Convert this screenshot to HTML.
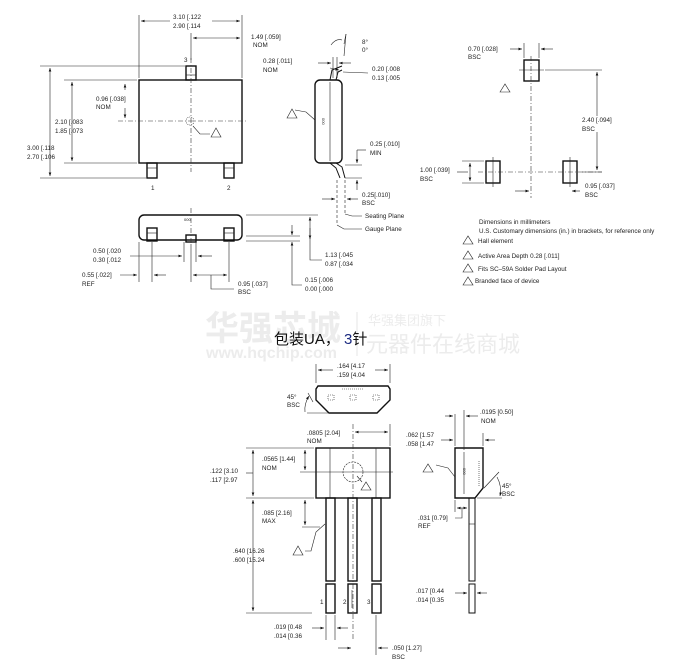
<!DOCTYPE html>
<html><head><meta charset="utf-8"><style>
html,body{margin:0;padding:0;background:#fff}
svg{display:block}
text{font-family:"Liberation Sans",sans-serif;font-size:6.3px;fill:#222}
.b{fill:none;stroke:#111;stroke-width:1.4}
.l{fill:none;stroke:#222;stroke-width:0.6}
.d{fill:none;stroke:#333;stroke-width:0.6;stroke-dasharray:5 2 1 2}
.w{font-family:"Liberation Sans","Noto Sans CJK SC",sans-serif;fill:#ececec}
</style></head><body>
<svg width="697" height="666" viewBox="0 0 697 666" xmlns="http://www.w3.org/2000/svg">
<defs>
<marker id="a" viewBox="0 0 8 6" refX="8" refY="3" markerWidth="6" markerHeight="4.5" orient="auto-start-reverse"><path d="M0,0L8,3L0,6z" fill="#111"/></marker>
</defs>

<!-- watermark -->
<text class="w" x="205" y="340" style="font-size:34px;font-weight:bold">华强芯城</text>
<text class="w" x="206" y="358" style="font-size:16px;font-weight:bold">www.hqchip.com</text>
<line x1="357" y1="312" x2="357" y2="356" stroke="#e4e4e4" stroke-width="1"/>
<text class="w" x="368" y="325" style="font-size:13px">华强集团旗下</text>
<text class="w" x="366" y="352" style="font-size:22px">元器件在线商城</text>
<text x="274" y="344" style="font-family:'Liberation Sans','Noto Sans CJK SC',sans-serif;font-size:15px;fill:#111">包装UA， <tspan fill="#1a2a80">3</tspan>针</text>

<!-- ===== SOT top view ===== -->
<rect class="b" x="139" y="80" width="103" height="83"/>
<rect class="b" x="186" y="66" width="10" height="14"/><line class="l" x1="186" y1="75" x2="196" y2="75"/>
<rect class="b" x="147" y="163" width="10" height="15"/><line class="l" x1="147" y1="168" x2="157" y2="168"/>
<rect class="b" x="224" y="163" width="10" height="15"/><line class="l" x1="224" y1="168" x2="234" y2="168"/>
<text x="184" y="62">3</text><text x="151" y="190">1</text><text x="227" y="190">2</text>
<line class="d" x1="118" y1="121" x2="247" y2="121"/>
<line class="d" x1="191" y1="58" x2="191" y2="172"/>
<circle cx="190" cy="121" r="4" class="l" stroke-dasharray="1 1"/>
<path class="l" d="M193,126 L200,134 L210,134"/>
<path class="l" d="M211,137 L216,128 L221,137z"/>
<!-- ext lines -->
<line class="l" x1="139" y1="15" x2="139" y2="78"/><line class="l" x1="242" y1="15" x2="242" y2="78"/>
<line class="l" x1="191" y1="33" x2="191" y2="60"/>
<line class="l" x1="141" y1="21" x2="170" y2="21" marker-start="url(#a)"/><line class="l" x1="212" y1="21" x2="240" y2="21" marker-end="url(#a)"/>
<text x="173" y="19">3.10 [.122</text><text x="173" y="28">2.90 [.114</text>
<line class="l" x1="193" y1="38" x2="240" y2="38" marker-start="url(#a)" marker-end="url(#a)"/>
<text x="251" y="39">1.49 [.059]</text><text x="253" y="47">NOM</text>
<line class="l" x1="40" y1="66" x2="185" y2="66"/><line class="l" x1="64" y1="80" x2="137" y2="80"/>
<line class="l" x1="64" y1="163" x2="137" y2="163"/><line class="l" x1="40" y1="178" x2="146" y2="178"/>
<line class="l" x1="50" y1="68" x2="50" y2="176" marker-start="url(#a)" marker-end="url(#a)"/>
<text x="27" y="150">3.00 [.118</text><text x="27" y="159">2.70 [.106</text>
<line class="l" x1="72" y1="82" x2="72" y2="161" marker-start="url(#a)" marker-end="url(#a)"/>
<text x="55" y="124">2.10 [.083</text><text x="55" y="133">1.85 [.073</text>
<line class="l" x1="125" y1="84" x2="125" y2="90" marker-start="url(#a)"/><line class="l" x1="125" y1="108" x2="125" y2="118" marker-end="url(#a)"/>
<text x="96" y="101">0.96 [.038]</text><text x="96" y="109">NOM</text>

<!-- ===== SOT side view ===== -->
<rect class="b" x="315" y="80" width="27" height="83" rx="5"/>
<line class="l" x1="330" y1="82" x2="330" y2="161"/>
<path class="b" d="M330,80 L332,70 L342,66 M336,80 L338,72 L342,70" style="stroke-width:1"/>
<path class="b" d="M330,163 L336,168 L340,178 M336,163 L342,167 L345,178" style="stroke-width:1"/>
<text x="0" y="0" transform="translate(322,118) rotate(90)" style="font-size:4px">000</text>
<path class="l" d="M295,110 L306,112 L315,120"/><path class="l" d="M287,118 L292,109 L297,118z"/>
<line class="l" x1="333" y1="57" x2="333" y2="78"/><line class="l" x1="337" y1="57" x2="337" y2="78"/>
<line class="l" x1="318" y1="63" x2="331" y2="63" marker-end="url(#a)"/><line class="l" x1="351" y1="63" x2="339" y2="63" marker-end="url(#a)"/>
<text x="263" y="63">0.28 [.011]</text><text x="263" y="72">NOM</text>
<line class="l" x1="330" y1="68" x2="339" y2="70" marker-end="url(#a)"/>
<path class="l" d="M343,72 L368,73"/>
<text x="372" y="71">0.20 [.008</text><text x="372" y="80">0.13 [.005</text>
<line class="l" x1="344" y1="44" x2="346" y2="34"/><line class="l" x1="346" y1="34" x2="344" y2="56"/>
<path class="l" d="M331,45 Q336,38 342,40"/>
<text x="362" y="44">8°</text><text x="362" y="52">0°</text>
<line class="l" x1="345" y1="165" x2="362" y2="165"/><line class="l" x1="345" y1="178" x2="362" y2="178"/>
<line class="l" x1="357" y1="150" x2="357" y2="163" marker-end="url(#a)"/><line class="l" x1="357" y1="190" x2="357" y2="180" marker-end="url(#a)"/>
<line class="l" x1="357" y1="150" x2="366" y2="150"/>
<text x="370" y="146">0.25 [.010]</text><text x="370" y="155">MIN</text>
<line class="l" x1="337" y1="180" x2="337" y2="225" stroke-dasharray="3 2"/><line class="l" x1="345" y1="180" x2="345" y2="215" stroke-dasharray="3 2"/>
<line class="l" x1="322" y1="199" x2="335" y2="199" marker-end="url(#a)"/><line class="l" x1="358" y1="199" x2="347" y2="199" marker-end="url(#a)"/>
<text x="362" y="197">0.25[.010]</text><text x="362" y="205">BSC</text>
<path class="l" d="M345,214 L352,216 L362,216"/><text x="365" y="218">Seating Plane</text>
<path class="l" d="M337,225 L344,229 L362,229"/><text x="365" y="231">Gauge Plane</text>

<!-- ===== SOT front view ===== -->
<rect class="b" x="139" y="215" width="103" height="25" rx="5"/>
<rect class="b" x="147" y="228" width="10" height="13"/><rect class="b" x="186" y="235" width="10" height="7"/><rect class="b" x="224" y="228" width="10" height="13"/>
<line class="l" x1="147" y1="233" x2="157" y2="233"/><line class="l" x1="224" y1="233" x2="234" y2="233"/>
<text x="184" y="221" style="font-size:4px">000</text>
<line class="d" x1="191" y1="208" x2="191" y2="244"/>
<line class="l" x1="139" y1="242" x2="139" y2="282"/><line class="l" x1="152" y1="242" x2="152" y2="282"/>
<line class="l" x1="184" y1="242" x2="184" y2="262"/><line class="l" x1="196" y1="242" x2="196" y2="262"/>
<line class="l" x1="191" y1="244" x2="191" y2="282"/><line class="l" x1="229" y1="242" x2="229" y2="282"/>
<line class="l" x1="130" y1="256" x2="182" y2="256" marker-end="url(#a)"/><line class="l" x1="212" y1="256" x2="198" y2="256" marker-end="url(#a)"/>
<text x="93" y="253">0.50 [.020</text><text x="93" y="262">0.30 [.012</text>
<line class="l" x1="120" y1="275" x2="137" y2="275" marker-end="url(#a)"/><line class="l" x1="166" y1="275" x2="154" y2="275" marker-end="url(#a)"/>
<text x="82" y="277">0.55 [.022]</text><text x="82" y="286">REF</text>
<line class="l" x1="193" y1="275" x2="227" y2="275" marker-start="url(#a)" marker-end="url(#a)"/>
<path class="l" d="M211,275 L211,289 L234,289"/>
<text x="238" y="286">0.95 [.037]</text><text x="238" y="294">BSC</text>
<line class="l" x1="246" y1="215" x2="318" y2="215"/><line class="l" x1="246" y1="236" x2="300" y2="236"/><line class="l" x1="246" y1="241" x2="300" y2="241"/>
<line class="l" x1="310" y1="217" x2="310" y2="239" marker-start="url(#a)" marker-end="url(#a)"/>
<path class="l" d="M310,228 L310,260 L322,260"/>
<text x="325" y="257">1.13 [.045</text><text x="325" y="266">0.87 [.034</text>
<line class="l" x1="292" y1="225" x2="292" y2="235" marker-end="url(#a)"/><line class="l" x1="292" y1="252" x2="292" y2="242" marker-end="url(#a)"/>
<path class="l" d="M292,252 L292,285 L302,285"/>
<text x="305" y="282">0.15 [.006</text><text x="305" y="291">0.00 [.000</text>

<!-- ===== Pad layout ===== -->
<rect class="b" x="524" y="60" width="15" height="21"/>
<rect class="b" x="486" y="161" width="14" height="22"/>
<rect class="b" x="563" y="161" width="14" height="22"/>
<line class="d" x1="531" y1="56" x2="531" y2="198"/>
<line class="l" x1="519" y1="70" x2="544" y2="70"/>
<line class="d" x1="478" y1="172" x2="602" y2="172"/>
<line class="l" x1="493" y1="157" x2="493" y2="187"/><line class="l" x1="570" y1="157" x2="570" y2="187"/>
<line class="l" x1="524" y1="43" x2="524" y2="58"/><line class="l" x1="539" y1="43" x2="539" y2="58"/>
<line class="l" x1="510" y1="49" x2="522" y2="49" marker-end="url(#a)"/><line class="l" x1="553" y1="49" x2="541" y2="49" marker-end="url(#a)"/>
<text x="468" y="51">0.70 [.028]</text><text x="468" y="59">BSC</text>
<path class="l" d="M500,92 L505,84 L510,92z"/>
<line class="l" x1="545" y1="70" x2="602" y2="70"/><line class="l" x1="582" y1="172" x2="602" y2="172"/>
<line class="l" x1="597" y1="72" x2="597" y2="116" marker-start="url(#a)"/><line class="l" x1="597" y1="132" x2="597" y2="170" marker-end="url(#a)"/>
<text x="582" y="122">2.40 [.094]</text><text x="582" y="131">BSC</text>
<line class="l" x1="462" y1="161" x2="484" y2="161"/><line class="l" x1="462" y1="183" x2="484" y2="183"/>
<line class="l" x1="470" y1="163" x2="470" y2="181" marker-start="url(#a)" marker-end="url(#a)"/>
<line class="l" x1="457" y1="172" x2="468" y2="172"/>
<text x="420" y="172">1.00 [.039]</text><text x="420" y="181">BSC</text>
<line class="l" x1="515" y1="191" x2="529" y2="191" marker-end="url(#a)"/><line class="l" x1="580" y1="191" x2="572" y2="191" marker-end="url(#a)"/>
<text x="585" y="188">0.95 [.037]</text><text x="585" y="197">BSC</text>
<!-- notes -->
<text x="479" y="224">Dimensions in millimeters</text>
<text x="479" y="233">U.S. Customary dimensions (in.) in brackets, for reference only</text>
<path class="l" d="M463,244 L468,236 L473,244z"/><text x="478" y="243">Hall element</text>
<path class="l" d="M463,259 L468,251 L473,259z"/><text x="478" y="258">Active Area Depth 0.28 [.011]</text>
<path class="l" d="M463,272 L468,264 L473,272z"/><text x="478" y="271">Fits SC–59A Solder Pad Layout</text>
<path class="l" d="M463,285 L468,277 L473,285z"/><text x="475" y="283">Branded face of device</text>

<!-- ===== UA top view ===== -->
<path class="b" d="M318,386 L388,386 L390,389 L390,400 L377,413 L329,413 L316,400 L316,389z"/>
<rect class="l" x="328" y="395" width="6" height="5" stroke-dasharray="1 1"/>
<rect class="l" x="350" y="395" width="6" height="5" stroke-dasharray="1 1"/>
<rect class="l" x="373" y="395" width="6" height="5" stroke-dasharray="1 1"/>
<line class="l" x1="342" y1="389" x2="364" y2="389" stroke-dasharray="1 1"/>
<line class="l" x1="316" y1="364" x2="316" y2="383"/><line class="l" x1="390" y1="364" x2="390" y2="383"/>
<line class="l" x1="318" y1="370" x2="333" y2="370" marker-start="url(#a)"/><line class="l" x1="375" y1="370" x2="388" y2="370" marker-end="url(#a)"/>
<text x="337" y="368">.164 [4.17</text><text x="337" y="377">.159 [4.04</text>
<line class="l" x1="307" y1="413" x2="328" y2="413"/><line class="l" x1="308" y1="393" x2="313" y2="402"/>
<path class="l" d="M305,412 Q304,404 309,396" marker-end="url(#a)"/>
<text x="287" y="399">45°</text><text x="287" y="407">BSC</text>

<!-- ===== UA front view ===== -->
<rect class="b" x="316" y="448" width="74" height="50"/>
<line class="l" x1="330" y1="448" x2="330" y2="498"/><line class="l" x1="376" y1="448" x2="376" y2="498"/>
<circle cx="353" cy="472" r="10" class="l" stroke-dasharray="2 1"/>
<line class="d" x1="353" y1="424" x2="353" y2="640"/>
<line class="l" x1="300" y1="472" x2="393" y2="472"/>
<path class="l" d="M357,476 L362,482"/><path class="l" d="M361,490 L366,482 L371,490z"/>
<rect class="b" x="326" y="498" width="9" height="83"/><rect class="b" x="348" y="498" width="9" height="83"/><rect class="b" x="372" y="498" width="9" height="83"/>
<rect class="b" x="326" y="584" width="9" height="29"/><rect class="b" x="348" y="584" width="9" height="29"/><rect class="b" x="372" y="584" width="9" height="29"/>
<line class="l" x1="352" y1="590" x2="352" y2="608"/>
<text x="320" y="604">1</text><text x="343" y="604">2</text><text x="367" y="604">3</text>
<path class="l" d="M325,524 L316,532 L311,551 L305,551"/><path class="l" d="M293,555 L298,546 L303,555z"/>
<line class="l" x1="390" y1="424" x2="390" y2="446"/>
<line class="l" x1="355" y1="432" x2="388" y2="432" marker-start="url(#a)" marker-end="url(#a)"/>
<text x="307" y="435">.0805 [2.04]</text><text x="307" y="443">NOM</text>
<line class="l" x1="246" y1="448" x2="314" y2="448"/><line class="l" x1="246" y1="498" x2="314" y2="498"/><line class="l" x1="302" y1="527" x2="320" y2="527"/>
<line class="l" x1="253" y1="450" x2="253" y2="496" marker-start="url(#a)" marker-end="url(#a)"/>
<line class="l" x1="246" y1="473" x2="253" y2="473"/>
<text x="210" y="473">.122 [3.10</text><text x="210" y="482">.117 [2.97</text>
<line class="l" x1="305" y1="450" x2="305" y2="470" marker-start="url(#a)" marker-end="url(#a)"/>
<text x="262" y="461">.0565 [1.44]</text><text x="262" y="470">NOM</text>
<line class="l" x1="305" y1="500" x2="305" y2="525" marker-start="url(#a)" marker-end="url(#a)"/>
<text x="262" y="515">.085 [2.16]</text><text x="262" y="523">MAX</text>
<line class="l" x1="253" y1="500" x2="253" y2="611" marker-start="url(#a)" marker-end="url(#a)"/>
<line class="l" x1="246" y1="613" x2="312" y2="613"/>
<text x="233" y="553">.640 [16.26</text><text x="233" y="562">.600 [15.24</text>
<line class="l" x1="326" y1="615" x2="326" y2="640"/><line class="l" x1="335" y1="615" x2="335" y2="640"/><line class="l" x1="376" y1="615" x2="376" y2="655"/>
<line class="l" x1="312" y1="628" x2="324" y2="628" marker-end="url(#a)"/><line class="l" x1="348" y1="628" x2="337" y2="628" marker-end="url(#a)"/>
<text x="274" y="629">.019 [0.48</text><text x="274" y="638">.014 [0.36</text>
<line class="l" x1="338" y1="648" x2="351" y2="648" marker-end="url(#a)"/><line class="l" x1="388" y1="648" x2="378" y2="648" marker-end="url(#a)"/>
<text x="392" y="650">.050 [1.27]</text><text x="392" y="659">BSC</text>

<!-- ===== UA side view ===== -->
<path class="b" d="M455,448 L483,448 L483,488 L475,498 L455,498z"/>
<line class="l" x1="464" y1="452" x2="464" y2="494"/>
<line class="l" x1="479" y1="461" x2="479" y2="486" stroke-dasharray="1 1"/>
<text x="0" y="0" transform="translate(463,468) rotate(90)" style="font-size:4px">000</text>
<rect class="b" x="469" y="498" width="6" height="83" style="stroke-width:1"/><rect class="b" x="469" y="584" width="6" height="29" style="stroke-width:1"/>
<line class="l" x1="469" y1="524" x2="475" y2="524"/>
<path class="l" d="M436,465 L448,468 L455,477"/><path class="l" d="M423,472 L428,464 L433,472z"/>
<line class="l" x1="455" y1="414" x2="455" y2="446"/><line class="l" x1="464" y1="410" x2="464" y2="450"/><line class="l" x1="483" y1="433" x2="483" y2="446"/>
<line class="l" x1="445" y1="416" x2="453" y2="416" marker-end="url(#a)"/><line class="l" x1="478" y1="416" x2="466" y2="416" marker-end="url(#a)"/>
<text x="480" y="414">.0195 [0.50]</text><text x="481" y="423">NOM</text>
<line class="l" x1="441" y1="440" x2="453" y2="440" marker-end="url(#a)"/><line class="l" x1="495" y1="440" x2="485" y2="440" marker-end="url(#a)"/>
<text x="406" y="437">.062 [1.57</text><text x="406" y="446">.058 [1.47</text>
<line class="l" x1="477" y1="498" x2="502" y2="498"/><line class="l" x1="484" y1="488" x2="499" y2="472"/>
<path class="l" d="M497,477 Q502,486 500,496" marker-end="url(#a)"/>
<text x="502" y="488">45°</text><text x="502" y="496">BSC</text>
<line class="l" x1="455" y1="500" x2="455" y2="512"/><line class="l" x1="469" y1="500" x2="469" y2="512"/>
<line class="l" x1="457" y1="508" x2="467" y2="508" marker-start="url(#a)" marker-end="url(#a)"/>
<path class="l" d="M462,508 L462,518 L455,518"/>
<text x="418" y="520">.031 [0.79]</text><text x="418" y="528">REF</text>
<line class="l" x1="455" y1="593" x2="467" y2="593" marker-end="url(#a)"/><line class="l" x1="487" y1="593" x2="477" y2="593" marker-end="url(#a)"/>
<text x="416" y="593">.017 [0.44</text><text x="416" y="602">.014 [0.35</text>
</svg>
</body></html>
